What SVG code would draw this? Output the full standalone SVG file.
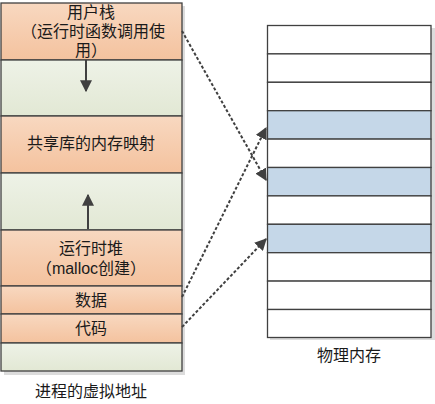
<svg xmlns="http://www.w3.org/2000/svg" width="435" height="404" viewBox="0 0 435 404">
<defs>
<linearGradient id="gO" x1="0" y1="0" x2="0" y2="1"><stop offset="0" stop-color="#F8D8C0"/><stop offset="1" stop-color="#F4C29E"/></linearGradient>
<linearGradient id="gG" x1="0" y1="0" x2="0" y2="1"><stop offset="0" stop-color="#EEF2E7"/><stop offset="1" stop-color="#E2E8D4"/></linearGradient>
<marker id="ah" viewBox="0 0 10 10" refX="9" refY="5" markerWidth="6" markerHeight="6" orient="auto" markerUnits="strokeWidth"><path d="M0,0 L10,5 L0,10 Z" fill="#404040"/></marker>
<marker id="bh" viewBox="0 0 10 10" refX="9" refY="5" markerWidth="6" markerHeight="6" orient="auto" markerUnits="strokeWidth"><path d="M0,0 L10,5 L0,10 Z" fill="#404040"/></marker>
</defs>
<style>
.o{fill:url(#gO);stroke:#404040;stroke-width:1.3}
.g{fill:url(#gG);stroke:#404040;stroke-width:1.3}
.w{fill:#FFFFFF;stroke:#404040;stroke-width:1.3}
.b{fill:#C5D7E8;stroke:#404040;stroke-width:1.3}
.sh{fill:#DCDCDC}
.t{font-family:"Liberation Sans","Noto Sans CJK SC",sans-serif;font-size:16px;fill:#1a1a1a;text-anchor:middle;dominant-baseline:central}
.d{fill:none;stroke:#404040;stroke-width:2;stroke-dasharray:3,2}
.a{fill:none;stroke:#404040;stroke-width:2}
</style>
<rect width="435" height="404" fill="#FFFFFF"/>
<g id="virtual">
<rect class="sh" x="4" y="6" width="181" height="369"/>
<g id="stack"><rect class="o" x="1" y="3" width="181" height="57"/><text class="t" x="91" y="12.5">用户栈</text><text class="t" x="93" y="31.5">（运行时函数调用使</text><text class="t" x="91" y="50">用）</text></g>
<g id="gap1"><rect class="g" x="1" y="60" width="181" height="56"/></g>
<g id="shared"><rect class="o" x="1" y="116" width="181" height="57"/><text class="t" x="91" y="143.5">共享库的内存映射</text></g>
<g id="gap2"><rect class="g" x="1" y="173" width="181" height="57"/></g>
<g id="heap"><rect class="o" x="1" y="230" width="181" height="56"/><text class="t" x="91" y="248">运行时堆</text><text class="t" x="91" y="268">（malloc创建）</text></g>
<g id="data"><rect class="o" x="1" y="286" width="181" height="28"/><text class="t" x="91" y="300.5">数据</text></g>
<g id="code"><rect class="o" x="1" y="314" width="181" height="29"/><text class="t" x="91" y="328">代码</text></g>
<g id="gap3"><rect class="g" x="1" y="343" width="181" height="28"/></g>
<text class="t" x="91" y="391.5">进程的虚拟地址</text>
</g>
<g id="physical">
<rect class="sh" x="270" y="28" width="165" height="312"/>
<rect class="w" x="267.5" y="25.5" width="163.5" height="28.4"/>
<rect class="w" x="267.5" y="53.9" width="163.5" height="28.4"/>
<rect class="w" x="267.5" y="82.3" width="163.5" height="28.4"/>
<rect class="b" x="267.5" y="110.7" width="163.5" height="28.4"/>
<rect class="w" x="267.5" y="139.1" width="163.5" height="28.4"/>
<rect class="b" x="267.5" y="167.5" width="163.5" height="28.4"/>
<rect class="w" x="267.5" y="195.9" width="163.5" height="28.4"/>
<rect class="b" x="267.5" y="224.3" width="163.5" height="28.4"/>
<rect class="w" x="267.5" y="252.7" width="163.5" height="28.4"/>
<rect class="w" x="267.5" y="281.1" width="163.5" height="28.4"/>
<rect class="w" x="267.5" y="309.5" width="163.5" height="28"/>
<text class="t" x="349" y="355.5">物理内存</text>
</g>
<g id="connectors">
<line class="a" x1="86" y1="60" x2="86" y2="91" marker-end="url(#bh)"/>
<line class="a" x1="88" y1="229" x2="88" y2="195" marker-end="url(#bh)"/>
<line class="d" x1="182" y1="31" x2="266" y2="180" marker-end="url(#ah)"/>
<line class="d" x1="182" y1="297" x2="266" y2="128" marker-end="url(#ah)"/>
<line class="d" x1="182" y1="327" x2="266" y2="239" marker-end="url(#ah)"/>
</g>
</svg>
